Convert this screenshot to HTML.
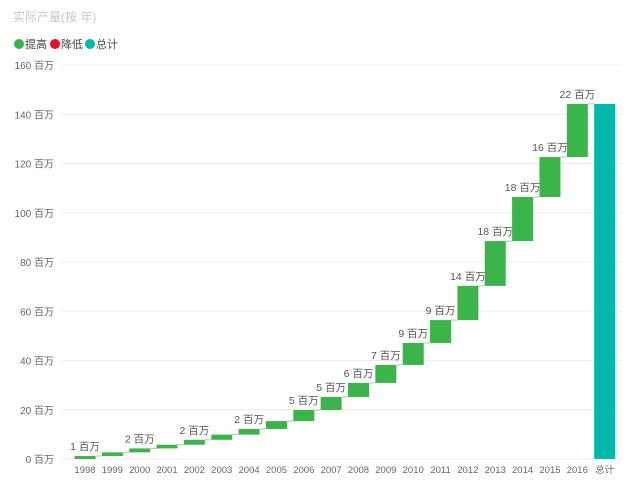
<!DOCTYPE html>
<html><head><meta charset="utf-8"><style>
body{margin:0;background:#fff;font-family:"Liberation Sans","Noto Sans CJK SC",sans-serif;}
svg text{font-family:"Liberation Sans","Noto Sans CJK SC",sans-serif;}
</style></head><body>
<svg id="chart" width="643" height="498">
<text x="13" y="21" font-size="12" fill="#c8c8c8">实际产量(按 年)</text>
<g>
<g><circle cx="19" cy="44" r="5" fill="#3bb44a"/><text x="25" y="48" font-size="11" fill="#444">提高</text></g>
<g><circle cx="55" cy="44" r="5" fill="#e81123"/><text x="61" y="48" font-size="11" fill="#444">降低</text></g>
<g><circle cx="90" cy="44" r="5" fill="#01b8aa"/><text x="96" y="48" font-size="11" fill="#444">总计</text></g>
</g>
<g id="grid"></g><g id="bars"></g>
</svg>
<script>
const categories=["1998","1999","2000","2001","2002","2003","2004","2005","2006","2007","2008","2009","2010","2011","2012","2013","2014","2015","2016"];
const increments=[1.2,1.5,1.6,1.5,2.0,2.1,2.3,3.2,4.5,5.3,5.7,7.3,8.9,9.3,13.9,18.2,17.9,16.2,21.6];
const yTicks=[0,20,40,60,80,100,120,140,160];
const totalLabel="总计";
const NS="http://www.w3.org/2000/svg";
const x0=62,x1=622,yBase=459,yTop=65,yMax=160;
const y=v=>yBase-(v/yMax)*(yBase-yTop);
const n=categories.length+1,step=(x1-x0-13)/n;
const xc=i=>x0+23+i*step*1.0;
function mk(t,a,p){const e=document.createElementNS(NS,t);for(const k in a)e.setAttribute(k,a[k]);(p||document.getElementById('bars')).appendChild(e);return e;}
const grid=document.getElementById('grid');
yTicks.forEach(t=>{
 const l=mk('line',{x1:x0,x2:x1,y1:y(t),y2:y(t),stroke:'#ececec','stroke-width':1},grid);
 
 
 const tx=mk('text',{x:54,y:y(t)+4,'font-size':10,fill:'#666','text-anchor':'end'},grid);
 tx.textContent=t+' 百万';
 
 
});
const bw=21;let cum=0;
categories.forEach((c,i)=>{
 const s=cum;cum+=increments[i];
 const cx=xc(i);
 if(i>0){const cn=mk('line',{x1:xc(i-1)+bw/2,x2:cx-bw/2,y1:y(s),y2:y(s),stroke:'#bbb','stroke-width':1});
  
  }
 const r=mk('rect',{x:cx-bw/2,y:y(cum),width:bw,height:Math.max(1,y(s)-y(cum)),fill:'#3bb44a'});
 
 
 const t=mk('text',{x:cx,y:473,'font-size':9.5,fill:'#666','text-anchor':'middle'});
 t.textContent=c;
 
 
 if(i%2===0||i>=8){const lb=mk('text',{x:cx,y:y(cum)-6,'font-size':10.5,fill:'#555','text-anchor':'middle'});
  lb.textContent=Math.round(increments[i])+' 百万';
  
  }
});
const ti=categories.length,tcx=xc(ti);
const cl=mk('line',{x1:xc(ti-1)+bw/2,x2:tcx-bw/2,y1:y(cum),y2:y(cum),stroke:'#bbb','stroke-width':1});


const tr=mk('rect',{x:tcx-bw/2,y:y(cum),width:bw,height:y(0)-y(cum),fill:'#01b8aa'});


const tt=mk('text',{x:tcx,y:473,'font-size':9.5,fill:'#666','text-anchor':'middle'});
tt.textContent=totalLabel;


</script>
</body></html>
